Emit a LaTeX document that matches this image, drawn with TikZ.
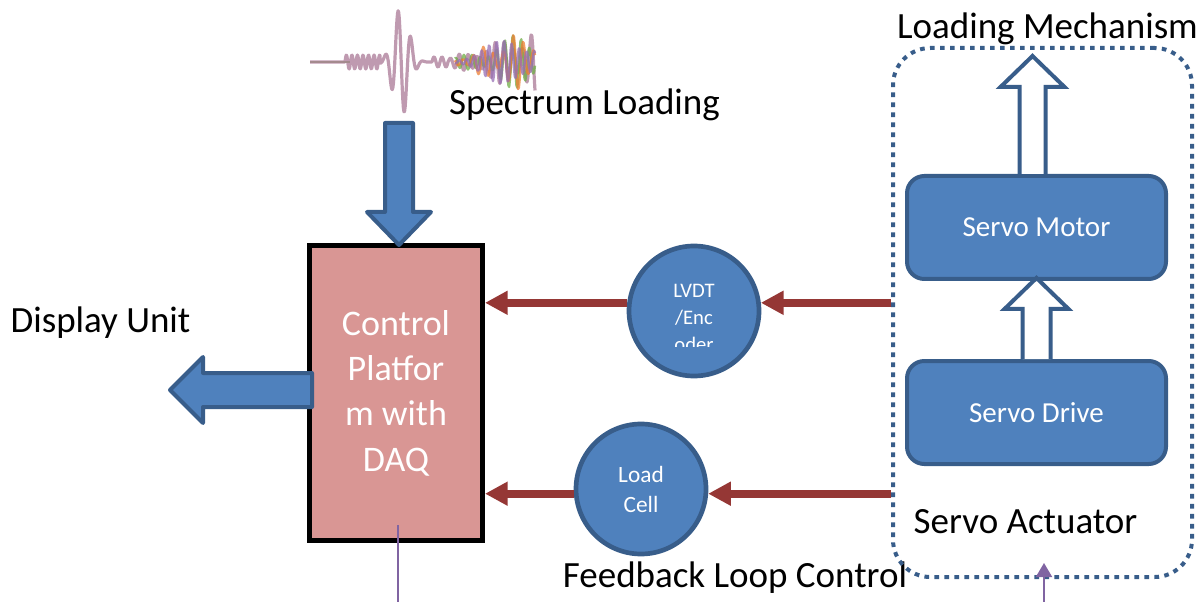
\documentclass[tikz,border=0pt]{standalone}
\usepackage{fontspec}
\setmainfont{Carlito}
\usepackage{tikz}
\usetikzlibrary{arrows.meta,calc,positioning}
\definecolor{boxblue}{RGB}{79,129,189}
\definecolor{edgeblue}{RGB}{56,93,138}
\definecolor{arrowred}{RGB}{149,55,53}
\definecolor{daqpink}{RGB}{217,150,148}
\definecolor{probepurple}{RGB}{128,100,162}
\definecolor{wgray}{RGB}{170,120,150}
\definecolor{wgreen}{RGB}{112,173,71}
\definecolor{worange}{RGB}{237,125,49}
\definecolor{wblue}{RGB}{91,155,213}
\definecolor{wpink}{RGB}{231,84,128}
\definecolor{wpurple}{RGB}{150,110,180}
\tikzstyle{redarrow} = [line width=5.8pt, -{Triangle[length=17pt,width=17pt]}, color=arrowred]
\tikzstyle{servobox} = [rectangle, rounded corners=13pt, minimum width=194.25pt, minimum height=77.25pt, text centered, draw=edgeblue, fill=boxblue, line width=3pt, text=white, font=\fontsize{21.75pt}{26pt}\selectfont]
\tikzstyle{sensor} = [circle, minimum size=97.5pt, inner sep=0pt, draw=edgeblue, fill=boxblue, line width=3.5pt, text=white, align=center]
\tikzstyle{blacktext} = [anchor=base, inner sep=0pt, font=\fontsize{27.75pt}{34pt}\selectfont]
\tikzstyle{bluearrow} = [draw=edgeblue, fill=boxblue, line width=3pt, line join=round]
\tikzstyle{hollowarrow} = [draw=edgeblue, fill=white, line width=3pt]
\tikzstyle{wave} = [line width=1.8pt, opacity=0.75, line join=round]
\tikzstyle{probeline} = [line width=1.5pt, color=probepurple]

\begin{document}
\begin{tikzpicture}[x=0.75pt, y=-0.75pt]
\useasboundingbox (0,0) rectangle (1203,602);

% seismic record
\draw[wave, color=wgreen] (310,62) -- (350,62);
\draw[wave, color=wgray, line width=2.4pt] (310,62) -- (345,62) -- plot[domain=345:380, samples=60] (\x,{62-7*sin(65*(\x-345))}) -- plot[domain=380:432, samples=90] (\x,{62-55*exp(0-pow((\x-401)/11,2))*cos(28*(\x-398))}) -- plot[domain=432:448, samples=30] (\x,{62-5*sin(45*(\x-432))}) -- plot[domain=448:535, samples=110] (\x,{62-(4+30*(\x-448)/87)*(0.7+0.3*sin(9*(\x-448)))*sin(40*(\x-448))});
\foreach \c/\fr/\ph/\md in {wgreen/44/60/7, worange/36/150/11, wpurple/48/250/5} {
  \draw[wave, color=\c] plot[domain=455:535, samples=100] (\x,{62-(4+32*(\x-455)/80)*(0.65+0.35*sin(\md*(\x-455)+\ph))*sin(\fr*(\x-455)+\ph)});
}

% Labels
\node[blacktext] (spectrumlabel) at (584.5,115) {Spectrum Loading};
\node[blacktext] (displaylabel) at (100.5,332) {Display Unit};
\node[blacktext] (mechlabel) at (1047.5,39) {Loading Mechanism};
\node[blacktext] (actuatorlabel) at (1025.5,533) {Servo Actuator};
\node[blacktext] (feedbacklabel) at (735,587) {Feedback Loop Control};

% Servo actuator
\node[draw=edgeblue, line width=3pt, dash pattern=on 3.5pt off 4pt, rounded corners=28pt, minimum width=224.25pt, minimum height=396.75pt] (actuator) at (1042.5,312.5) {};
\node[servobox] (motor) at (1036.5,227.5) {Servo Motor};
\node[servobox] (drive) at (1036.5,412.5) {Servo Drive};
\draw[hollowarrow] ($(motor.north)+(-17,0)$) -- ++(0,-87) -- ++(-19,0) -- ++(32,-31) -- ++(32,31) -- ++(-19,0) -- ++(0,87);
\draw[hollowarrow] ($(drive.north)+(-14,0)$) -- ++(0,-50) -- ++(-18,0) -- ++(32,-31) -- ++(32,31) -- ++(-18,0) -- ++(0,50);

% Sensors
\node[sensor] (lvdt) at (694,311) {};
\begin{scope}
\clip (634,241) rectangle (754,346);
\node[text=white, align=center, font=\fontsize{15.5pt}{20pt}\selectfont] (lvdttext) at (694,318) {LVDT\\/Enc\\oder};
\end{scope}
\node[sensor, font=\fontsize{17.5pt}{22.5pt}\selectfont] (load) at (641,489) {Load\\Cell};

% Control platform
\node[draw=black, line width=3.4pt, fill=daqpink, minimum width=130.1pt, minimum height=221.6pt, text=white, align=center, font=\fontsize{27pt}{34pt}\selectfont] (ctrl) at (396,393) {Control\\Platfor\\m with\\DAQ};
\draw[bluearrow] ($(ctrl.north)+(3,2)$) -- ++(-32,-33) -- ++(18,0) -- ++(0,-89) -- ++(28,0) -- ++(0,89) -- ++(18,0) -- cycle;
\draw[bluearrow] ($(ctrl.west)+(5,-20)$) -- ++(-109,0) -- ++(0,-16) -- ++(-33,33) -- ++(33,33) -- ++(0,-16) -- ++(109,0) -- cycle;

% Feedback
\draw[redarrow] (lvdt.173) -- (lvdt.173 -| ctrl.east);
\draw[redarrow] (actuator.west |- lvdt.7) -- (lvdt.7);
\draw[redarrow] (load.184) -- (load.184 -| ctrl.east);
\draw[redarrow] (actuator.west |- load.356) -- (load.356);

% Probes
\coordinate (daqfoot) at (398,602);
\coordinate (actfoot) at (1044,602);
\draw[probeline] ($(ctrl.south)+(2,-18)$) -- (daqfoot);
\draw[probeline, -{Triangle[length=10.5pt,width=12pt]}] (actfoot) -- ($(actuator.south)+(1.5,-16)$);
\end{tikzpicture}
\end{document}
